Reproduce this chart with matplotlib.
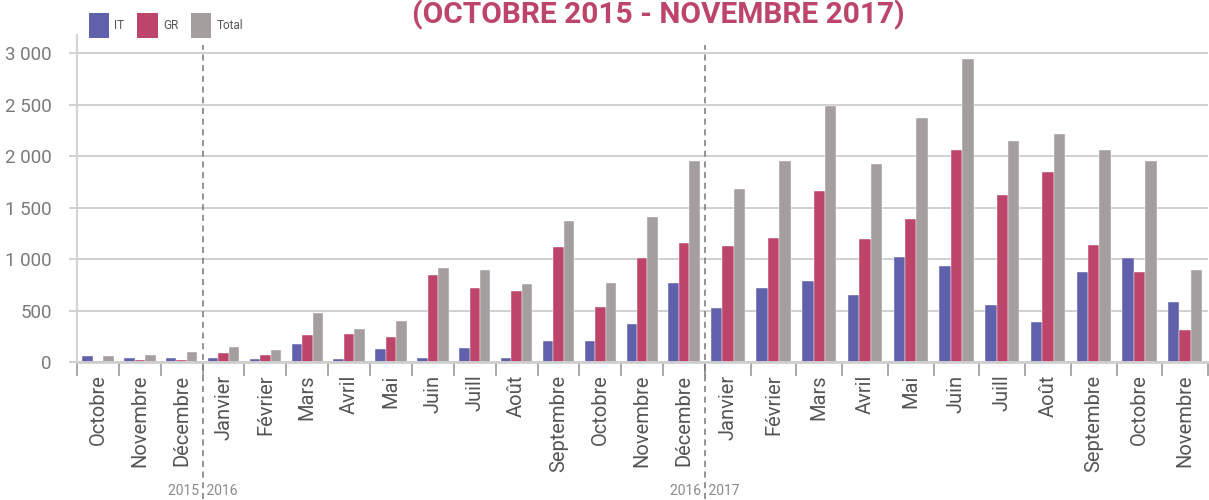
import matplotlib
matplotlib.use("Agg")
import matplotlib.pyplot as plt
from matplotlib.patches import Patch
from matplotlib.ticker import FuncFormatter
import numpy as np

plt.rcParams['font.family'] = ['Roboto', 'DejaVu Sans']

# ---- data ----
months_a = ["Octobre", "Novembre", "Décembre", "Janvier", "Février", "Mars", "Avril",
            "Mai", "Juin", "Juill", "Août", "Septembre", "Octobre", "Novembre", "Décembre"]
it_a = [60, 35, 35, 35, 30, 175, 25, 125, 35, 135, 40, 205, 200, 370, 765]
gr_a = [5, 20, 20, 85, 65, 260, 275, 240, 845, 720, 690, 1115, 530, 1010, 1160]
tot_a = [60, 70, 100, 150, 120, 475, 325, 395, 910, 890, 755, 1365, 770, 1405, 1950]

months_b = ["Janvier", "Février", "Mars", "Avril", "Mai", "Juin", "Juill", "Août",
            "Septembre", "Octobre", "Novembre"]
it_b = [520, 720, 785, 650, 1020, 935, 550, 385, 870, 1010, 580]
gr_b = [1130, 1200, 1660, 1195, 1385, 2055, 1620, 1840, 1140, 870, 315]
tot_b = [1675, 1950, 2485, 1925, 2370, 2940, 2150, 2210, 2055, 1955, 895]

series_names = ["IT", "GR", "Total"]
yticks = [0, 500, 1000, 1500, 2000, 2500, 3000]
title = "(OCTOBRE 2015 - NOVEMBRE 2017)"

# ---- style ----
colors = ["#6060AB", "#BD4569", "#A49E9E"]
grid_c = "#C4C4C4"
label_c = "#555555"
ytick_c = "#7A7A7A"

fig = plt.figure(figsize=(12.09, 5.0), dpi=100)
ax1 = fig.add_axes([77/1209, 138/500, 628/1209, 327/500])
ax2 = fig.add_axes([705/1209, 138/500, 503/1209, 327/500], sharey=ax1)

w = 0.25
for ax, months, series in [(ax1, months_a, (it_a, gr_a, tot_a)),
                           (ax2, months_b, (it_b, gr_b, tot_b))]:
    x = np.arange(len(months))
    for k, (vals, c) in enumerate(zip(series, colors)):
        ax.bar(x + (k - 1) * w, vals, width=w, color=c, zorder=3,
               edgecolor="white", linewidth=0.3)
    ax.set_xlim(-0.5, len(months) - 0.5)
    ax.set_xticks(x)
    ax.set_xticklabels(months, rotation=90, fontsize=14.5, color=label_c)
    ax.set_xticks(np.arange(len(months) + 1) - 0.5, minor=True)
    ax.tick_params(axis="x", which="major", length=0, pad=9)
    ax.tick_params(axis="x", which="minor", length=10, width=1.2, color="#999999")
    ax.yaxis.grid(True, color=grid_c, linewidth=1.1, zorder=0)
    ax.set_axisbelow(True)
    for s in ["top", "right"]:
        ax.spines[s].set_visible(False)
    ax.spines["bottom"].set_color("#CFCFCF")
    ax.spines["bottom"].set_linewidth(2)
    ax.spines["bottom"].set_zorder(4)

ax1.set_ylim(0, 3175)
ax1.set_yticks(yticks)
ax1.yaxis.set_major_formatter(FuncFormatter(lambda v, p: f"{int(v):,}".replace(",", " ")))
ax1.tick_params(axis="y", length=6, color=grid_c, width=1.1, labelsize=13.5,
                labelcolor=ytick_c, pad=12)
ax1.spines["left"].set_color("#D4D4D4")
ax1.spines["left"].set_linewidth(1.6)
ax2.spines["left"].set_visible(False)
ax2.tick_params(axis="y", left=False, labelleft=False)

# dashed year separators
for ax, xpos in [(ax1, 2.5), (ax2, -0.5)]:
    ax.axvline(xpos, ymin=-0.42, ymax=0.97, clip_on=False, color="#777777",
               linewidth=1.1, linestyle=(0, (4, 3)), zorder=5)

yr_y = -0.395
ax1.text(2.5, yr_y, "2015 ", transform=ax1.get_xaxis_transform(), ha="right",
         va="center", fontsize=10, color="#8A8A8A")
ax1.text(2.5, yr_y, " 2016", transform=ax1.get_xaxis_transform(), ha="left",
         va="center", fontsize=10, color="#8A8A8A")
ax2.text(-0.5, yr_y, "2016 ", transform=ax2.get_xaxis_transform(), ha="right",
         va="center", fontsize=10, color="#8A8A8A")
ax2.text(-0.5, yr_y, " 2017", transform=ax2.get_xaxis_transform(), ha="left",
         va="center", fontsize=10, color="#8A8A8A")

# legend
handles = [Patch(facecolor=c, edgecolor="none") for c in colors]
leg = fig.legend(handles, series_names, loc="upper left",
                 bbox_to_anchor=(89/1209, 1 - 13/500),
                 ncol=3, frameon=False, fontsize=8.5, handlelength=1.7, handleheight=2.9,
                 handletextpad=0.45, columnspacing=1.1, borderaxespad=0.0, borderpad=0.0)
for t in leg.get_texts():
    t.set_color("#555555")

fig.text(658/1209, 1 - 15/500, title, ha="center", va="center", fontsize=21.5,
         fontweight="bold", color="#BD4569")

fig.savefig("out.png", dpi=100)
